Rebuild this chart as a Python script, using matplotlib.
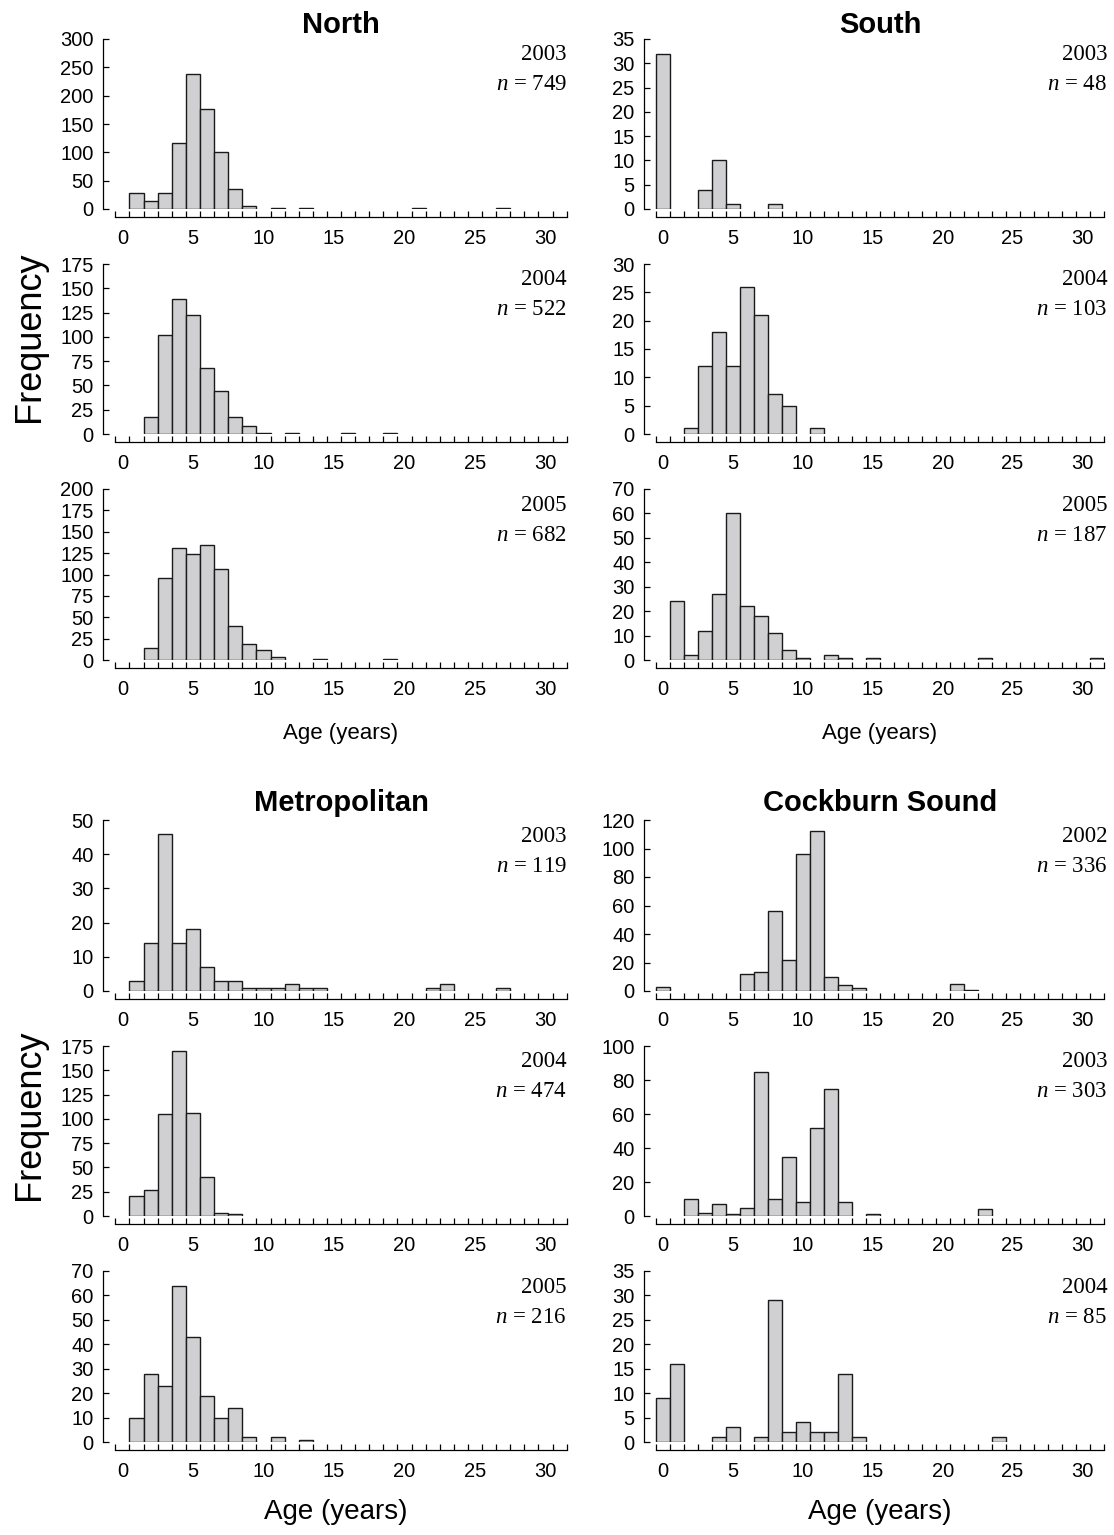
import matplotlib
matplotlib.use('Agg')
import matplotlib.pyplot as plt
from matplotlib.ticker import MultipleLocator, FixedLocator

plt.rcParams['font.family'] = ['Liberation Sans', 'DejaVu Sans']
plt.rcParams['mathtext.fontset'] = 'custom'
plt.rcParams['mathtext.rm'] = 'Liberation Serif'
plt.rcParams['mathtext.it'] = 'Liberation Serif:italic'

# ---------------- data (age in years -> frequency) ----------------
ages = list(range(32))

north_2003 = {1: 29, 2: 14, 3: 28, 4: 117, 5: 238, 6: 176, 7: 100, 8: 36, 9: 6,
              11: 1, 13: 2, 21: 1, 27: 1}
north_2004 = {2: 17, 3: 102, 4: 139, 5: 122, 6: 68, 7: 44, 8: 18, 9: 8, 10: 1,
              12: 1, 16: 1, 19: 1}
north_2005 = {2: 14, 3: 96, 4: 131, 5: 124, 6: 134, 7: 107, 8: 40, 9: 19, 10: 12,
              11: 3, 14: 1, 19: 1}
south_2003 = {0: 32, 3: 4, 4: 10, 5: 1, 8: 1}
south_2004 = {2: 1, 3: 12, 4: 18, 5: 12, 6: 26, 7: 21, 8: 7, 9: 5, 11: 1}
south_2005 = {1: 24, 2: 2, 3: 12, 4: 27, 5: 60, 6: 22, 7: 18, 8: 11, 9: 4, 10: 1,
              12: 2, 13: 1, 15: 1, 23: 1, 31: 1}
metro_2003 = {1: 3, 2: 14, 3: 46, 4: 14, 5: 18, 6: 7, 7: 3, 8: 3, 9: 1, 10: 1,
              11: 1, 12: 2, 13: 1, 14: 1, 22: 1, 23: 2, 27: 1}
metro_2004 = {1: 21, 2: 27, 3: 105, 4: 170, 5: 106, 6: 40, 7: 3, 8: 2}
metro_2005 = {1: 10, 2: 28, 3: 23, 4: 64, 5: 43, 6: 19, 7: 10, 8: 14, 9: 2,
              11: 2, 13: 1}
cockburn_2002 = {0: 3, 6: 12, 7: 13, 8: 56, 9: 22, 10: 96, 11: 112, 12: 10,
                 13: 4, 14: 2, 21: 5, 22: 1}
cockburn_2003 = {2: 10, 3: 2, 4: 7, 5: 1, 6: 5, 7: 85, 8: 10, 9: 35, 10: 8,
                 11: 52, 12: 75, 13: 8, 15: 1, 23: 4}
cockburn_2004 = {0: 9, 1: 16, 4: 1, 5: 3, 7: 1, 8: 29, 9: 2, 10: 4, 11: 2,
                 12: 2, 13: 14, 14: 1, 24: 1}

years = ['2003', '2004', '2005', '2003', '2004', '2005',
         '2003', '2004', '2005', '2002', '2003', '2004']
n_values = [749, 522, 682, 48, 103, 187, 119, 474, 216, 336, 303, 85]
y_max = [300, 175, 200, 35, 30, 70, 50, 175, 70, 120, 100, 35]
y_step = [50, 25, 25, 5, 5, 10, 10, 25, 10, 20, 20, 5]
region_titles = ['North', 'South', 'Metropolitan', 'Cockburn Sound']
x_tick_labels = [0, 5, 10, 15, 20, 25, 30]

datasets = [north_2003, north_2004, north_2005,
            south_2003, south_2004, south_2005,
            metro_2003, metro_2004, metro_2005,
            cockburn_2002, cockburn_2003, cockburn_2004]

# ---------------- layout (pixels) ----------------
W, H, DPI = 1114, 1535, 100
fig = plt.figure(figsize=(W / DPI, H / DPI), dpi=DPI)

col_x = [(102.7, 464.0), (643.5, 460.0)]
row_y = [(39, 209), (264, 434), (489, 660), (820, 991), (1046, 1216), (1271, 1442)]
# panel index -> (col, row)
placement = [(0, 0), (0, 1), (0, 2), (1, 0), (1, 1), (1, 2),
             (0, 3), (0, 4), (0, 5), (1, 3), (1, 4), (1, 5)]

BAR_FACE = '#d0d0d2'
BAR_EDGE = '#1a1a1a'

for i, data in enumerate(datasets):
    c, r = placement[i]
    x0, w = col_x[c]
    yt, yb = row_y[r]
    ax = fig.add_axes([x0 / W, 1 - yb / H, w / W, (yb - yt) / H])
    counts = [data.get(a, 0) for a in ages]
    xs = [a for a, v in zip(ages, counts) if v > 0]
    hs = [v for v in counts if v > 0]
    ax.bar(xs, hs, width=1.0, color=BAR_FACE, edgecolor=BAR_EDGE, linewidth=1.0)

    ax.set_xlim(-1.4, 31.5)
    ax.set_ylim(0, y_max[i])
    for s in ('top', 'right'):
        ax.spines[s].set_visible(False)
    ax.spines['left'].set_bounds(0, y_max[i])
    ax.spines['bottom'].set_position(('outward', 5.8))
    ax.spines['bottom'].set_bounds(-0.5, 31.5)
    for s in ('left', 'bottom'):
        ax.spines[s].set_linewidth(0.9)

    ax.yaxis.set_major_locator(MultipleLocator(y_step[i]))
    ax.tick_params(axis='y', direction='in', length=4, width=0.9, pad=6.5,
                   labelsize=14.5)
    ax.xaxis.set_major_locator(FixedLocator(x_tick_labels))
    ax.xaxis.set_minor_locator(FixedLocator([a - 0.5 for a in range(33)]))
    ax.tick_params(axis='x', which='major', length=0, pad=8.5, labelsize=14.5)
    ax.tick_params(axis='x', which='minor', direction='in', length=4, width=0.9)
    ax.patch.set_visible(False)

    xr = 1.0 if c == 0 else 1.008
    ax.text(xr, 0.906, years[i], transform=ax.transAxes, ha='right', va='center',
            fontsize=16.5, family='Liberation Serif')
    ax.text(xr, 0.73, r'$n$ = %d' % n_values[i], transform=ax.transAxes,
            ha='right', va='center', fontsize=16.5, family='Liberation Serif')


def ftext(px, py, s, **kw):
    fig.text(px / W, 1 - py / H, s, ha='center', va='center', **kw)


ftext(341, 25, region_titles[0], fontsize=21, fontweight='bold')
ftext(880, 25, region_titles[1], fontsize=21, fontweight='bold')
ftext(341, 803, region_titles[2], fontsize=21, fontweight='bold')
ftext(880, 803, region_titles[3], fontsize=21, fontweight='bold')

ftext(341, 733, 'Age (years)', fontsize=16)
ftext(880, 733, 'Age (years)', fontsize=16)
ftext(336, 1512, 'Age (years)', fontsize=20)
ftext(880, 1512, 'Age (years)', fontsize=20)

ftext(30, 337, 'Frequency', fontsize=26, rotation=90)
ftext(30, 1115, 'Frequency', fontsize=26, rotation=90)

fig.savefig('out.png', dpi=DPI)
